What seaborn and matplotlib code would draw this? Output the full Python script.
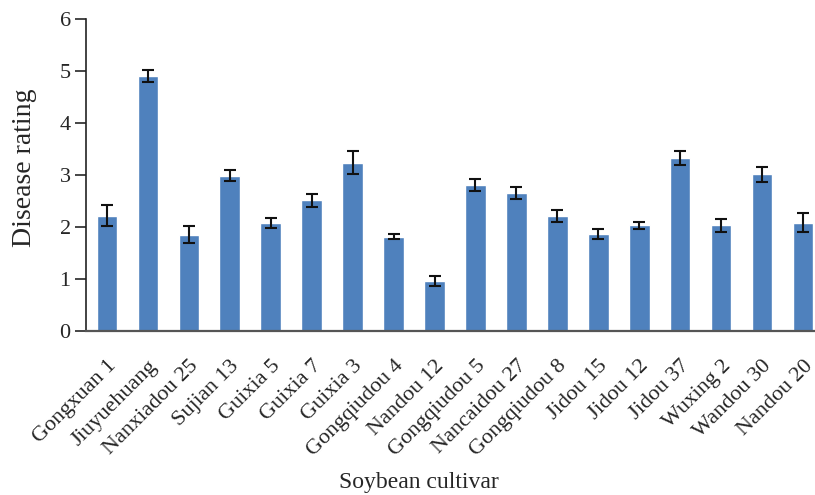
import matplotlib
matplotlib.use("Agg")
import matplotlib.pyplot as plt
import seaborn as sns
import pandas as pd

# cultivars and mean disease rating with error
cultivars = ["Gongxuan 1", "Jiuyuehuang", "Nanxiadou 25", "Sujian 13", "Guixia 5",
             "Guixia 7", "Guixia 3", "Gongqiudou 4", "Nandou 12", "Gongqiudou 5",
             "Nancaidou 27", "Gongqiudou 8", "Jidou 15", "Jidou 12", "Jidou 37",
             "Wuxing 2", "Wandou 30", "Nandou 20"]
rating = [2.22, 4.90, 1.85, 2.99, 2.08, 2.51, 3.24, 1.81, 0.96, 2.81,
          2.65, 2.21, 1.87, 2.03, 3.33, 2.03, 3.01, 2.08]
err = [0.21, 0.12, 0.16, 0.11, 0.10, 0.13, 0.23, 0.05, 0.10, 0.12,
       0.12, 0.12, 0.10, 0.06, 0.14, 0.12, 0.15, 0.18]
yticks = [0, 1, 2, 3, 4, 5, 6]

df = pd.DataFrame({"cultivar": cultivars, "rating": rating, "err": err})

sns.set_style("white")
plt.rcParams["font.family"] = ["Liberation Serif", "DejaVu Serif"]

fig = plt.figure(figsize=(8.15, 4.95), dpi=100)
ax = fig.add_axes([0.1055, 0.3313, 0.8945, 0.6303])

sns.barplot(data=df, x="cultivar", y="rating", color="#4F81BD", width=0.5,
            errorbar=None, saturation=1, ax=ax)
ax.errorbar(range(len(cultivars)), df["rating"], yerr=df["err"], fmt="none",
            ecolor="#111111", elinewidth=1.5, capsize=4.5, capthick=1.5)

ax.set_ylim(0, 6)
ax.set_xlim(-0.51, 17.29)
ax.set_yticks(yticks)
ax.set_yticklabels([str(t) for t in yticks], fontsize=16)
ax.tick_params(axis="y", direction="out", length=8, width=1.2, left=True, pad=3)
ax.tick_params(axis="x", bottom=False, pad=15)
plt.setp(ax.get_xticklabels(), rotation=45, ha="right", rotation_mode="anchor", fontsize=16)

for s in ["top", "right"]:
    ax.spines[s].set_visible(False)
ax.spines["left"].set_color("#222222")
ax.spines["left"].set_linewidth(1.2)
ax.spines["bottom"].set_color("#555555")
ax.spines["bottom"].set_linewidth(1.6)

ax.set_ylabel("Disease rating", fontsize=20)
ax.yaxis.set_label_coords(-0.067, 0.522)
ax.set_xlabel("")
fig.text(0.514, 0.025, "Soybean cultivar", ha="center", va="center", fontsize=17)

fig.savefig("out.png", dpi=100)
